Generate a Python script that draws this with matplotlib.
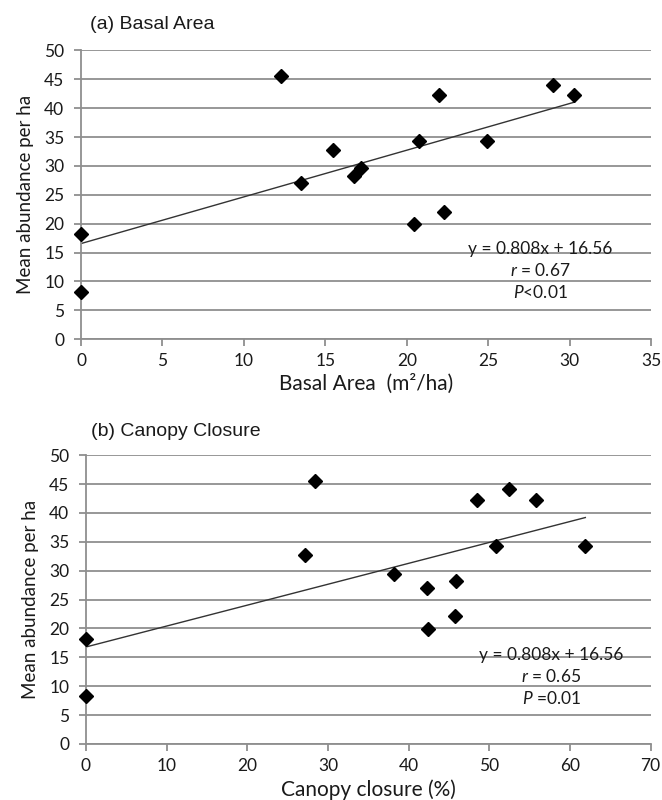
import matplotlib
matplotlib.use("Agg")
import matplotlib.pyplot as plt

plt.rcParams['font.family'] = ['Lato', 'DejaVu Sans']
plt.rcParams['mathtext.fontset'] = 'custom'
plt.rcParams['mathtext.it'] = 'Lato:italic'
plt.rcParams['mathtext.rm'] = 'Lato'

# (a) basal area (m2/ha) vs mean abundance per ha
basal_x = [0, 0, 12.3, 13.5, 15.45, 16.75, 17.2, 20.45, 20.75, 22.0, 22.3, 24.9, 29.0, 30.3]
basal_y = [18.2, 8.2, 45.5, 27.0, 32.7, 28.3, 29.6, 19.9, 34.3, 42.2, 22.0, 34.3, 44.0, 42.2]
basal_fit = (0.808, 16.56)   # slope, intercept of drawn trend line
basal_stats = ["y = 0.808x + 16.56", "$\\it{r}$ = 0.67", "$\\it{P}$<0.01"]

# (b) canopy closure (%) vs mean abundance per ha
canopy_x = [0, 0, 28.4, 27.1, 38.2, 42.3, 42.4, 45.9, 45.8, 48.5, 50.8, 52.4, 55.8, 61.9]
canopy_y = [18.2, 8.3, 45.5, 32.7, 29.5, 27.0, 19.9, 28.3, 22.1, 42.3, 34.3, 44.1, 42.3, 34.3]
canopy_fit = (0.362, 16.8)
canopy_stats = ["y = 0.808x + 16.56", "$\\it{r}$ = 0.65", "$\\it{P}$ =0.01"]

yticks = list(range(0, 51, 5))
grid_col = '#8f8f8f'
txt_col = '#1a1a1a'

fig = plt.figure(figsize=(6.62, 8), dpi=100)
ax1 = fig.add_axes([0.1224, 0.576, 0.861, 0.361])
ax2 = fig.add_axes([0.1299, 0.070, 0.853, 0.361])


def style(ax, xmax, xstep):
    ax.set_xlim(0, xmax)
    ax.set_ylim(0, 50)
    ax.set_xticks(range(0, xmax + 1, xstep))
    ax.set_yticks(yticks)
    ax.grid(axis='y', color=grid_col, linewidth=1.3)
    ax.set_axisbelow(True)
    for s in ['top', 'right']:
        ax.spines[s].set_visible(False)
    for s in ['left', 'bottom']:
        ax.spines[s].set_color(grid_col)
        ax.spines[s].set_linewidth(1.3)
    ax.tick_params(length=5, width=1.3, color=grid_col, labelsize=12.5,
                   labelcolor=txt_col)
    ax.tick_params(axis='y', pad=7)
    ax.tick_params(axis='x', pad=5)
    ax.set_ylabel('Mean abundance per ha', fontsize=13.5, color=txt_col, labelpad=7)


def panel(ax, xs, ys, fit, stats, xend, tx, ty):
    slope, icpt = fit
    ax.plot([0, xend], [icpt, icpt + slope * xend], color='#333333', linewidth=1.0,
            zorder=2)
    ax.plot(xs, ys, linestyle='none', marker='D', markersize=7, color='black',
            clip_on=False, zorder=3)
    for i, s in enumerate(stats):
        ax.text(tx, ty - i * 3.8, s, ha='center', va='center', fontsize=12.5,
                color=txt_col)


style(ax1, 35, 5)
panel(ax1, basal_x, basal_y, basal_fit, basal_stats, 30.3, 28.2, 15.7)
ax1.set_xlabel('Basal Area  (m²/ha)', fontsize=15, color=txt_col, labelpad=3)
fig.text(0.136, 0.969, '(a) Basal Area', fontsize=14, family='Liberation Sans',
         color=txt_col, va='center', ha='left')

style(ax2, 70, 10)
panel(ax2, canopy_x, canopy_y, canopy_fit, canopy_stats, 61.9, 57.7, 15.4)
ax2.set_xlabel('Canopy closure (%)', fontsize=15, color=txt_col, labelpad=4)
fig.text(0.138, 0.46, '(b) Canopy Closure', fontsize=14, family='Liberation Sans',
         color=txt_col, va='center', ha='left')

fig.savefig('out.png', dpi=100)
